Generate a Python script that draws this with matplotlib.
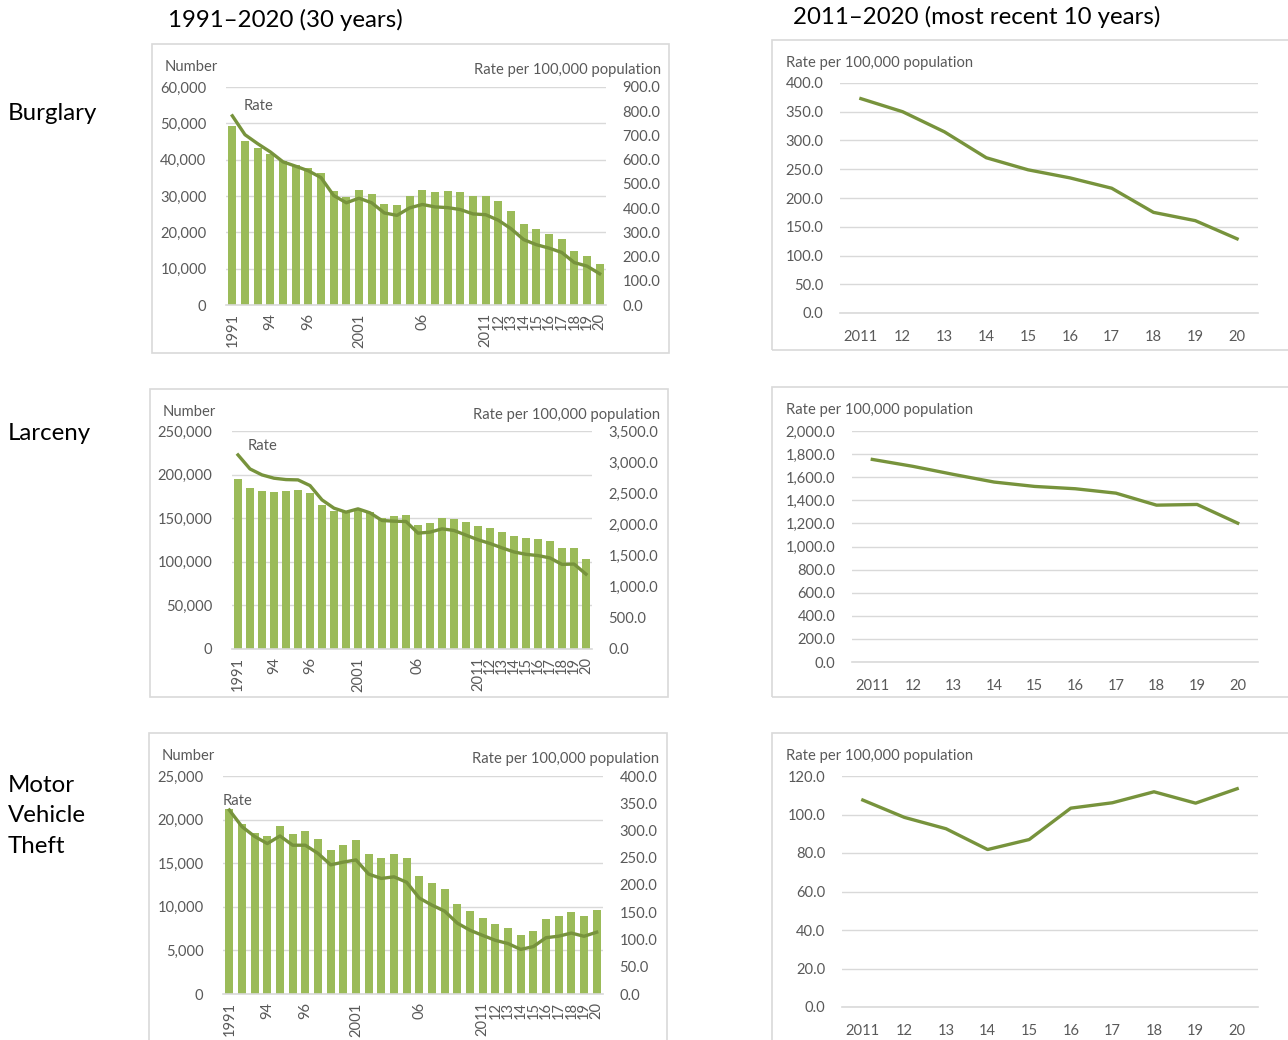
import matplotlib
matplotlib.use("Agg")
import matplotlib.pyplot as plt
from matplotlib.patches import Rectangle
from matplotlib.ticker import FuncFormatter, MultipleLocator
import numpy as np

plt.rcParams['font.family'] = ['Lato', 'DejaVu Sans']

W, H = 1288, 1040

# 30-year category labels (as printed on the chart)
years30 = ['1991', '', '', '94', '', '', '96', '', '', '', '2001', '', '', '', '',
           '06', '', '', '', '', '2011', '12', '13', '14', '15', '16', '17', '18', '19', '20']
years10 = ['2011', '12', '13', '14', '15', '16', '17', '18', '19', '20']

burglary_num = [49200, 45100, 43200, 41600, 39500, 38600, 37800, 36300, 31300, 29700,
                31600, 30600, 27800, 27600, 30000, 31600, 31000, 31300, 31000, 30000,
                30100, 28500, 26000, 22300, 20800, 19600, 18300, 14800, 13600, 11200]
burglary_rate = [781, 703, 666, 632, 591, 573, 554, 526, 452, 422,
                 441, 422, 380, 370, 401, 415, 405, 402, 394, 376,
                 372.8, 350, 315, 270, 249, 235, 217, 175, 160.6, 129]

larceny_num = [195000, 185100, 180900, 180200, 180900, 182800, 178600, 165300, 158800, 156900,
               159500, 157000, 150800, 152700, 154200, 142400, 145000, 150400, 148900, 145400,
               141600, 138500, 134400, 129800, 127100, 126300, 123700, 115300, 116000, 103400]
larceny_rate = [3116, 2891, 2795, 2742, 2720, 2715, 2624, 2394, 2261, 2197,
                 2250, 2186, 2063, 2052, 2047, 1860, 1876, 1929, 1903, 1828,
                 1754, 1694, 1624, 1558, 1520, 1500, 1462, 1358, 1364, 1202]

mvt_num = [21250, 19460, 18500, 18120, 19300, 18390, 18650, 17740, 16510, 17130,
           17660, 16020, 15600, 16090, 15560, 13570, 12730, 12000, 10280, 9480,
           8680, 8030, 7570, 6770, 7260, 8600, 8950, 9440, 8980, 9670]
mvt_rate = [337.6, 307, 289, 276, 290, 273, 273, 258, 237, 242,
            246, 220, 212, 215, 205, 176, 163, 152, 130, 117,
            107.5, 98.5, 92.6, 81.8, 87.0, 103.3, 106.1, 111.8, 105.9, 113.4]

BAR = '#9BBB59'
LINE = '#77933C'
TXT = '#595959'
GRID = '#D9D9D9'
FS = 10.6


def px_rect(l, t, r, b):
    return [l / W, 1 - b / H, (r - l) / W, (b - t) / H]


def frame(fig, l, t, r, b):
    fig.patches.append(Rectangle((l / W, 1 - b / H), (r - l) / W, (b - t) / H,
                                 transform=fig.transFigure, fill=False,
                                 edgecolor=GRID, linewidth=1.2))


def style_ax(ax):
    for s in ['top', 'left', 'right']:
        ax.spines[s].set_visible(False)
    ax.spines['bottom'].set_color(GRID)
    ax.spines['bottom'].set_linewidth(1.2)
    ax.tick_params(length=0, colors=TXT, labelsize=FS)
    ax.yaxis.grid(True, color=GRID, linewidth=1.0)
    ax.set_axisbelow(True)


fmt_int = FuncFormatter(lambda v, p: f'{v:,.0f}')
fmt_dec = FuncFormatter(lambda v, p: f'{v:,.1f}')


def left_panel(fig, box, fbox, num, rate, ymax, ystep, rmax, rstep, rate_xy):
    ax = fig.add_axes(px_rect(*box))
    x = np.arange(len(num))
    ax.bar(x, num, width=0.65, color=BAR, zorder=2)
    ax.set_xlim(-0.5, len(num) - 0.5)
    ax.set_ylim(0, ymax)
    ax.yaxis.set_major_locator(MultipleLocator(ystep))
    ax.yaxis.set_major_formatter(fmt_int)
    style_ax(ax)
    ax.tick_params(axis='y', pad=14)
    ax.set_xticks(x)
    ax.set_xticklabels(years30, rotation=90, va='top', ha='center')
    ax.tick_params(axis='x', pad=6)

    ax2 = ax.twinx()
    ax2.plot(x, rate, color=LINE, linewidth=2.4, zorder=3)
    ax2.set_ylim(0, rmax)
    ax2.yaxis.set_major_locator(MultipleLocator(rstep))
    ax2.yaxis.set_major_formatter(fmt_dec)
    for s in ax2.spines.values():
        s.set_visible(False)
    ax2.tick_params(length=0, colors=TXT, labelsize=FS, pad=12)

    l, t, r, b = fbox
    frame(fig, l, t, r, b)
    fig.text((l + 13) / W, 1 - (t + 23) / H, 'Number', fontsize=FS, color=TXT, va='center')
    fig.text((r - 8) / W, 1 - (t + 26) / H, 'Rate per 100,000 population', fontsize=FS,
             color=TXT, va='center', ha='right')
    fig.text(rate_xy[0] / W, 1 - rate_xy[1] / H, 'Rate', fontsize=FS, color=TXT, va='center')


def right_panel(fig, box, fbox, rate, ymax, ystep):
    ax = fig.add_axes(px_rect(*box))
    x = np.arange(len(rate))
    ax.plot(x, rate, color=LINE, linewidth=2.4)
    ax.set_xlim(-0.5, len(rate) - 0.5)
    ax.set_ylim(0, ymax)
    ax.yaxis.set_major_locator(MultipleLocator(ystep))
    ax.yaxis.set_major_formatter(fmt_dec)
    style_ax(ax)
    ax.tick_params(axis='y', pad=12)
    ax.tick_params(axis='x', pad=12)
    ax.set_xticks(x)
    ax.set_xticklabels(years10)
    l, t, r, b = fbox
    frame(fig, l, t, r, b)
    fig.text((l + 14) / W, 1 - (t + 23) / H, 'Rate per 100,000 population', fontsize=FS,
             color=TXT, va='center')


fig = plt.figure(figsize=(W / 100, H / 100), dpi=100)
fig.patch.set_facecolor('white')

# column titles
fig.text(285 / W, 1 - 20 / H, '1991\u20132020 (30 years)', fontsize=17.3, ha='center', va='center')
fig.text(977 / W, 1 - 17 / H, '2011\u20132020 (most recent 10 years)', fontsize=17.3,
         ha='center', va='center')

# row labels
fig.text(8 / W, 1 - 114 / H, 'Burglary', fontsize=17.3, va='center')
fig.text(8 / W, 1 - 433 / H, 'Larceny', fontsize=17.3, va='center')
fig.text(8 / W, 1 - 816 / H, 'Motor\nVehicle\nTheft', fontsize=17.3, va='center', linespacing=1.55)

# 30-year panels
left_panel(fig, (226, 87, 606, 305), (152, 44, 669, 353), burglary_num, burglary_rate,
           60000, 10000, 900, 100, (244, 106))
left_panel(fig, (232, 431, 592, 649), (150, 389, 668, 697), larceny_num, larceny_rate,
           250000, 50000, 3500, 500, (248, 446))
left_panel(fig, (223, 776, 603, 994), (149, 733, 667, 1045), mvt_num, mvt_rate,
           25000, 5000, 400, 50, (223, 801))

# 10-year panels
right_panel(fig, (840, 83, 1258, 313), (772, 40, 1295, 350), burglary_rate[-10:], 400, 50)
right_panel(fig, (852, 431, 1258, 662), (772, 387, 1295, 697), larceny_rate[-10:], 2000, 200)
right_panel(fig, (842, 776, 1258, 1007), (772, 733, 1295, 1045), mvt_rate[-10:], 120, 20)

fig.savefig('out.png', dpi=100, facecolor='white')
